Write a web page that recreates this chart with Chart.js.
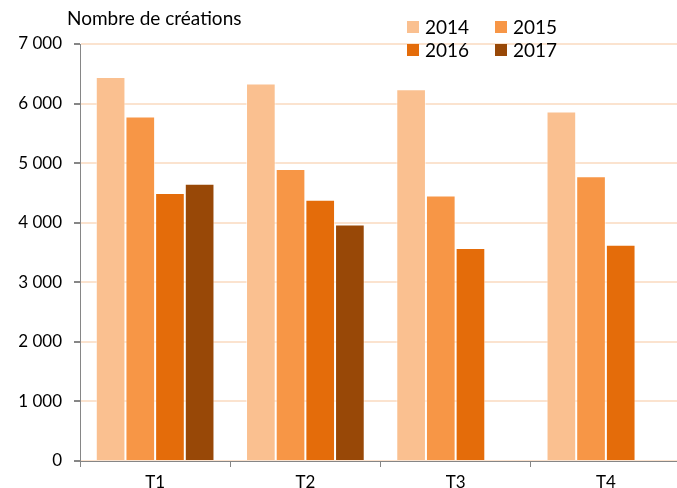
<!DOCTYPE html>
<html>
<head>
<meta charset="utf-8">
<script src="https://cdn.jsdelivr.net/npm/chart.js@4"></script>
<style>
html,body{margin:0;padding:0;background:#fff;overflow:hidden;}
#wrap{width:681px;height:488px;}
</style>
</head>
<body>
<div id="wrap"><canvas id="c" width="681" height="488"></canvas></div>
<script>
const categories = ['T1', 'T2', 'T3', 'T4'];
const years = ['2014', '2015', '2016', '2017'];
const values2014 = [6445, 6335, 6240, 5865];
const values2015 = [5785, 4900, 4455, 4780];
const values2016 = [4500, 4385, 3575, 3630];
const values2017 = [4655, 3970, null, null];
const yTicks = [0, 1000, 2000, 3000, 4000, 5000, 6000, 7000];
const yTitle = 'Nombre de créations';
const colors = ['#FAC090', '#F79646', '#E46C0A', '#984807'];

const FONT = 'Lato, "Open Sans", sans-serif';

const overlay = {
  id: 'overlay',
  afterDraw(chart) {
    const ctx = chart.ctx;
    ctx.save();
    ctx.fillStyle = '#000';
    ctx.font = '19px ' + FONT;
    ctx.textBaseline = 'middle';
    ctx.textAlign = 'left';
    ctx.fillText(yTitle, 67, 19);
    const pos = [[407, 27], [495, 27], [407, 50], [495, 50]];
    chart.data.datasets.forEach((ds, i) => {
      const [x, y] = pos[i];
      ctx.fillStyle = ds.backgroundColor;
      ctx.fillRect(x, y - 6, 12, 12);
      ctx.fillStyle = '#000';
      ctx.fillText(ds.label, x + 18, y + 1);
    });
    ctx.restore();
  }
};

new Chart(document.getElementById('c'), {
  type: 'bar',
  data: {
    labels: categories,
    datasets: [values2014, values2015, values2016, values2017].map((v, i) => ({
      label: years[i],
      data: v,
      backgroundColor: colors[i],
      borderColor: 'rgba(255,255,255,0.55)',
      borderWidth: 1,
      categoryPercentage: 0.79,
      barPercentage: 1.0
    }))
  },
  options: {
    responsive: false,
    animation: false,
    layout: { padding: { top: 44, left: 0, right: 0, bottom: 0 } },
    plugins: { legend: { display: false }, tooltip: { enabled: false } },
    scales: {
      x: {
        afterFit(s) { s.height = 27; },
        grid: { drawOnChartArea: false, tickColor: '#868686', tickLength: 6, offset: true },
        border: { color: '#868686', width: 1 },
        ticks: { color: '#000', font: { size: 17, family: FONT }, padding: 5 }
      },
      y: {
        min: 0, max: 7000,
        afterFit(s) { s.width = 80; },
        afterBuildTicks(axis) { axis.ticks = yTicks.map(v => ({ value: v })); },
        grid: { color: '#FBE3CF', lineWidth: 2, tickColor: '#868686', tickLength: 6 },
        border: { color: '#868686', width: 1 },
        ticks: {
          color: '#000', font: { size: 17, family: FONT }, padding: 12,
          callback: v => String(v).replace(/\B(?=(\d{3})+(?!\d))/g, ' ')
        }
      }
    }
  },
  plugins: [overlay]
});
</script>
</body>
</html>
